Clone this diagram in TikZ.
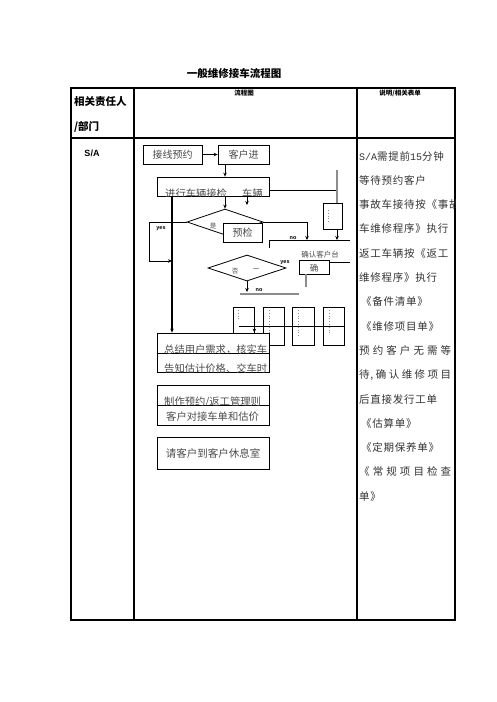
\documentclass[tikz,border=0pt]{standalone}
\usepackage{fontspec}
\usetikzlibrary{shapes.geometric,arrows.meta}
\newfontfamily\cjk{Noto Sans CJK SC}
\newfontfamily\cjkr{Noto Sans CJK SC}[LetterSpace=7]
\newfontfamily\lat{Liberation Sans}
\newfontfamily\mono{Liberation Mono}
\definecolor{ftext}{gray}{0.3}
\definecolor{gline}{gray}{0.55}
\tikzset{
 tbl/.style={line width=1.1pt},
 bx/.style={draw, fill=white, inner sep=0pt, line width=0.8pt, font=\cjk\fontsize{10}{12}\selectfont, text=ftext},
 ft/.style={font=\cjk\fontsize{10.3}{12}\selectfont, text=ftext, inner sep=0pt},
 tiny/.style={font=\cjk\fontsize{6.5}{7}\selectfont, text=ftext, inner sep=0pt},
 lbl/.style={font=\lat\bfseries\fontsize{5.5}{6}\selectfont, inner sep=0pt},
 rt/.style={font=\cjkr\fontsize{10.5}{12}\selectfont, text=black!80, anchor=west, inner sep=0pt},
 hd/.style={font=\cjk\bfseries\fontsize{10.5}{12}\selectfont, inner sep=0pt},
 arr/.style={-{Stealth[length=4pt,width=3.5pt]}, line width=0.8pt},
 ln/.style={line width=0.8pt},
 dots/.style={gline, dotted, line width=0.8pt},
 dia/.style={draw, diamond, inner sep=0pt, line width=0.8pt},
}
\begin{document}
\begin{tikzpicture}[x=1pt,y=-1pt]
\useasboundingbox[fill=white] (0,0) rectangle (496,702);
% title
\node[hd] (title) at (234,73) {一般维修接车流程图};
% table
\draw[tbl] (71,88) rectangle (455,620);
\draw[tbl] (134,88) -- (134,620);
\draw[tbl] (357,88) -- (357,620);
\draw[tbl] (71,138) -- (455,138);
% header texts
\node[hd, anchor=west] (h1) at (74,102) {相关责任人};
\node[hd, anchor=west] (h2) at (74,127) {/部门};
\node[hd, font=\cjk\bfseries\fontsize{6.5}{7}\selectfont] (h3) at (244,93) {流程图};
\node[hd, font=\cjk\bfseries\fontsize{6.5}{7}\selectfont] (h4) at (400,93) {说明/相关表单};
\node[font=\lat\bfseries\fontsize{9}{10}\selectfont, inner sep=0pt] (sa) at (92,153) {S/A};

% ---- flowchart ----
\node[bx, minimum width=59pt, minimum height=19pt] (b1) at (172.5,154.5) {接线预约};
\node[bx, minimum width=51pt, minimum height=19pt] (b2) at (243.5,154.5) {客户进};
\draw[arr] (b1.east) -- (b2.west);
\node[bx, minimum width=112pt, minimum height=19pt] (b3) at (213,186.5) {};
\begin{scope}
\clip (157,177) rectangle (269,196);
\node[ft, anchor=west] (b3t) at (165,194) {进行车辆接检};
\node[ft, anchor=west] (b3u) at (242,194) {车辆};
\end{scope}
\node[dia, minimum width=76pt, minimum height=26pt] (d1) at (225,222) {};
\node[tiny] (d1t) at (213,226) {是};
\node[bx, minimum width=39pt, minimum height=19pt] (b4) at (242.5,232.5) {预检};
\draw[arr] (b2.south -| d1.north) -- (b3.north -| d1.north);
\draw[arr] (b3.south -| d1.north) -- (d1.north);
\coordinate (c1) at (247,205);
\draw[arr] (b3.south -| c1) -- (c1);
% yes loop
\coordinate (ya) at (149,222);
\coordinate (yb) at (149,261);
\coordinate (yc) at (172,261);
\draw[arr] (d1.west) -- (ya) -- (yb) -- (yc);
\node[lbl] (yes1) at (161,229) {yes};
% no branch
\coordinate (na) at (307,222);
\coordinate (nb) at (307,240);
\draw[arr] (d1.east) -- (na) -- (nb);
\node[lbl] (no1) at (293,238) {no};
\coordinate (bs1) at (269,248);
\coordinate (bs2) at (269,240);
\coordinate (bs3) at (350,240);
\draw[ln] (bs1) -- (bs2) -- (bs3);
% right side branch
\coordinate (r1) at (337,190);
\coordinate (r0) at (337,170);
\draw[ln] (b3.east |- r1) -- (r1);
\node[bx, minimum width=19pt, minimum height=26pt] (b6) at (332.5,216) {};
\draw[dots] (328,210) -- (328,222);
\draw[gline, line width=1.1pt] (r0) -- (b6.north -| r0);
\draw[arr] (b6.south -| r0) -- (r0 |- bs3);
% box 7
\node[bx, minimum width=30pt, minimum height=14pt] (b7) at (314,267) {};
\node[tiny, font=\cjk\fontsize{7.5}{8}\selectfont] (b7a) at (320,255) {确认客户台};
\node[ft, font=\cjk\fontsize{8.5}{9}\selectfont] (b7b) at (314,268) {确};
\coordinate (r2) at (350,262);
\draw[ln] (b7.east |- r2) -- (r2);
\coordinate (g1) at (306,287);
\draw[gline, line width=1.1pt] (b7.south -| g1) -- (g1);
% diamond 2
\node[dia, minimum width=78pt, minimum height=26pt] (d2) at (247,268) {};
\node[tiny] (d2a) at (235,271) {否};
\node[tiny] (d2b) at (256,270) {一};
\node[lbl] (yes2) at (285,263) {yes};
\coordinate (n2) at (247,292);
\draw[arr] (d2.south) -- (n2);
\node[lbl] (no2) at (259,290) {no};
\coordinate (g2) at (240,294);
\coordinate (g3) at (299,294);
\draw[gline, line width=1.2pt] (g2) -- (g3);
% four small boxes
\node[bx, minimum width=21pt, minimum height=38pt] (e1) at (243.5,326) {};
\node[bx, minimum width=21pt, minimum height=38pt] (e2) at (273.5,326) {};
\node[bx, minimum width=22pt, minimum height=38pt] (e3) at (303,326) {};
\node[bx, minimum width=21pt, minimum height=38pt] (e4) at (333.5,326) {};
\draw[dots] (238,310) -- (238,320);
\draw[dots] (269,310) -- (269,336);
\draw[dots] (298,310) -- (298,336);
\draw[dots] (329,310) -- (329,334);
\coordinate (hl) at (239,326);
\draw[ln] (hl) -- (e4.east |- hl);
% box 5
\node[bx, minimum width=112pt, minimum height=39pt] (b5) at (213,352.5) {};
\coordinate (m5) at (213,353);
\draw[ln] (b5.west |- m5) -- (b5.east |- m5);
\begin{scope}
\clip (157,333) rectangle (269,353);
\node[ft, anchor=west] (b5a) at (164,350) {总结用户需求，核实车};
\end{scope}
\begin{scope}
\clip (157,353) rectangle (269,372);
\node[ft, anchor=west] (b5b) at (164,369) {告知估计价格、交车时};
\end{scope}
\draw[arr] (e1.east |- hl) -- (e1.east |- b5.north);
\draw[arr, line width=1.1pt] (b3.south -| yc) -- (b5.north -| yc);
% box 8
\node[bx, minimum width=112pt, minimum height=40pt] (b8) at (213,405) {};
\coordinate (m8) at (213,405);
\draw[ln] (b8.west |- m8) -- (b8.east |- m8);
\begin{scope}
\clip (157,385) rectangle (269,405);
\node[ft, anchor=west] (b8a) at (164,402) {制作预约/返工管理则};
\end{scope}
\node[ft, anchor=west] (b8b) at (166,417) {客户对接车单和估价};
% box 9
\node[bx, minimum width=112pt, minimum height=32pt, font=\cjk\fontsize{10.5}{12}\selectfont] (b9) at (213,453) {请客户到客户休息室};

% ---- right column ----
\begin{scope}
\clip (358,139) rectangle (455,619);
\node[rt] (t0) at (359,156) {{\mono\fontsize{10}{12}\selectfont S/A}需提前{\mono\fontsize{10}{12}\selectfont 15}分钟};
\node[rt] (t1) at (359,180.3) {等待预约客户};
\node[rt] (t2) at (359,204.6) {事故车接待按《事故};
\node[rt] (t3) at (359,228.9) {车维修程序》执行};
\node[rt] (t4) at (359,253.2) {返工车辆按《返工};
\node[rt] (t5) at (359,277.5) {维修程序》执行};
\node[rt] (t6) at (361,301.8) {《备件清单》};
\node[rt] (t7) at (361,326.1) {《维修项目单》};
\node[rt] (t8) at (359,350.4) {\makebox[92pt][s]{预\hfill 约\hfill 客\hfill 户\hfill 无\hfill 需\hfill 等}};
\node[rt] (t9) at (359,374.7) {\makebox[92pt][s]{待,\hfill 确\hfill 认\hfill 维\hfill 修\hfill 项\hfill 目}};
\node[rt] (t10) at (359,399) {后直接发行工单};
\node[rt] (t11) at (361,423.3) {《估算单》};
\node[rt] (t12) at (361,447.6) {《定期保养单》};
\node[rt] (t13) at (359,471.9) {\makebox[92pt][s]{《\hfill 常\hfill 规\hfill 项\hfill 目\hfill 检\hfill 查}};
\node[rt] (t14) at (359,496.2) {单》};
\end{scope}
\end{tikzpicture}
\end{document}
